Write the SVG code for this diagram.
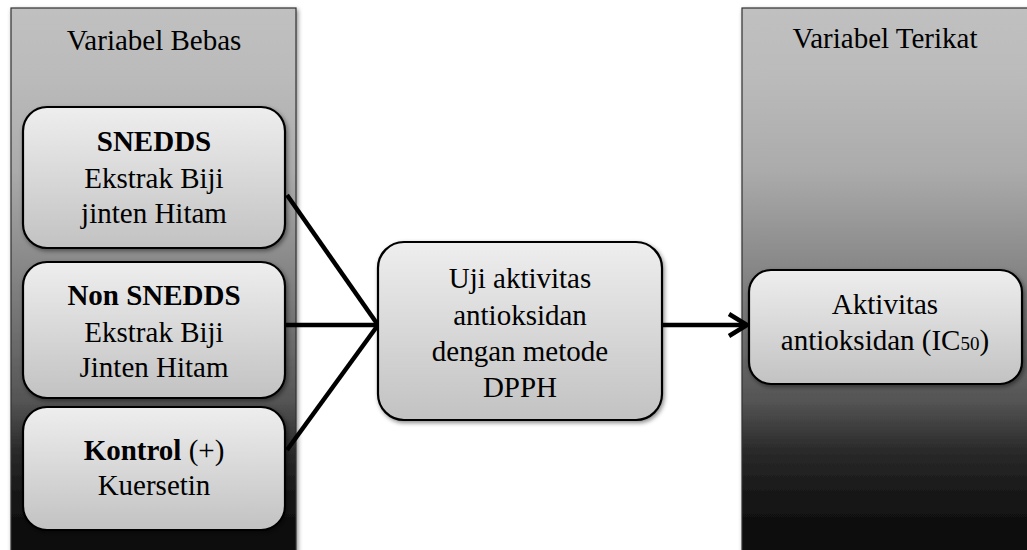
<svg xmlns="http://www.w3.org/2000/svg" width="1027" height="550" viewBox="0 0 1027 550" font-family="'Liberation Serif', 'DejaVu Serif', serif">
<style>
  text { font-family: 'Liberation Serif', 'DejaVu Serif', serif; font-size: 29px; fill: #000; text-anchor: middle; }
  .b { font-weight: bold; }
  .panel { fill: url(#panelGrad); stroke: #333; stroke-width: 1.2; filter: url(#shadow); }
  .box { fill: url(#boxGrad); stroke: #000; stroke-width: 2.2; filter: url(#shadow); }
  .conn { stroke: #000; stroke-width: 4.5; fill: none; }
</style>
<defs>
  <linearGradient id="panelGrad" x1="0" y1="0" x2="0" y2="1">
    <stop offset="0" stop-color="#c0c0c0"/>
    <stop offset="0.12" stop-color="#bbbbbb"/>
    <stop offset="0.29" stop-color="#ababab"/>
    <stop offset="0.44" stop-color="#8c8c8c"/>
    <stop offset="0.7" stop-color="#555555"/>
    <stop offset="0.79" stop-color="#2a2a2a"/>
    <stop offset="0.88" stop-color="#151515"/>
    <stop offset="1" stop-color="#050505"/>
  </linearGradient>
  <linearGradient id="boxGrad" x1="0" y1="0" x2="0" y2="1">
    <stop offset="0" stop-color="#eeeeee"/>
    <stop offset="1" stop-color="#c2c2c2"/>
  </linearGradient>
  <filter id="shadow" x="-10%" y="-10%" width="120%" height="120%">
    <feDropShadow dx="1.5" dy="2" stdDeviation="2" flood-color="#000" flood-opacity="0.45"/>
  </filter>
</defs>

<g id="panel-bebas">
  <rect class="panel" x="11" y="8" width="285" height="560"/>
  <text x="154" y="50">Variabel Bebas</text>
</g>
<g id="panel-terikat">
  <rect class="panel" x="742" y="8" width="300" height="560"/>
  <text x="885" y="48">Variabel Terikat</text>
</g>

<g id="connectors">
  <line class="conn" x1="287" y1="195" x2="378" y2="325"/>
  <line class="conn" x1="285" y1="325" x2="378" y2="325"/>
  <line class="conn" x1="287" y1="450" x2="378" y2="325"/>
  <line class="conn" x1="662" y1="325" x2="745" y2="325"/>
  <path class="conn" d="M729,314 L747,325 L729,336"/>
</g>

<g id="node-snedds">
  <rect class="box" x="23" y="107" width="262" height="141" rx="24"/>
  <text class="b" x="154" y="151">SNEDDS</text>
  <text x="154" y="188">Ekstrak Biji</text>
  <text x="154" y="223">jinten Hitam</text>
</g>
<g id="node-nonsnedds">
  <rect class="box" x="23" y="262" width="262" height="136" rx="24"/>
  <text class="b" x="154" y="305">Non SNEDDS</text>
  <text x="154" y="342">Ekstrak Biji</text>
  <text x="154" y="377">Jinten Hitam</text>
</g>
<g id="node-kontrol">
  <rect class="box" x="23" y="407" width="262" height="123" rx="24"/>
  <text x="154" y="460"><tspan class="b">Kontrol</tspan> (+)</text>
  <text x="154" y="495">Kuersetin</text>
</g>
<g id="node-uji">
  <rect class="box" x="378" y="242" width="284" height="178" rx="26"/>
  <text x="520" y="288">Uji aktivitas</text>
  <text x="520" y="325">antioksidan</text>
  <text x="520" y="361">dengan metode</text>
  <text x="520" y="397">DPPH</text>
</g>
<g id="node-aktivitas">
  <rect class="box" x="749" y="270" width="273" height="114" rx="22"/>
  <text x="885" y="314">Aktivitas</text>
  <text x="885" y="350">antioksidan (IC<tspan font-size="19">50</tspan>)</text>
</g>
</svg>
